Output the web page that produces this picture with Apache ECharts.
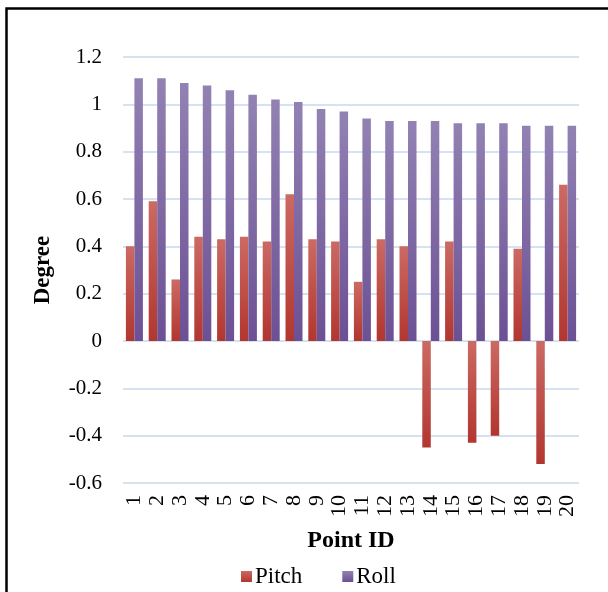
<!DOCTYPE html>
<html>
<head>
<meta charset="utf-8">
<script src="https://cdn.jsdelivr.net/npm/echarts@6/dist/echarts.min.js"></script>
<style>
  html, body { margin: 0; padding: 0; background: #fff; }
  #chart { width: 608px; height: 592px; }
</style>
</head>
<body>
<div id="chart"></div>
<script>
// Point IDs along the horizontal axis
const pointIds = ['1','2','3','4','5','6','7','8','9','10','11','12','13','14','15','16','17','18','19','20'];
// Pitch angle per point (degrees)
const pitch = [0.40, 0.59, 0.26, 0.44, 0.43, 0.44, 0.42, 0.62, 0.43, 0.42,
               0.25, 0.43, 0.40, -0.45, 0.42, -0.43, -0.40, 0.39, -0.52, 0.66];
// Roll angle per point (degrees)
const roll = [1.11, 1.11, 1.09, 1.08, 1.06, 1.04, 1.02, 1.01, 0.98, 0.97,
              0.94, 0.93, 0.93, 0.93, 0.92, 0.92, 0.92, 0.91, 0.91, 0.91];

const serif = '"Liberation Serif", "Times New Roman", serif';

function grad(top, bottom) {
  return new echarts.graphic.LinearGradient(0, 0, 0, 1, [
    { offset: 0, color: top },
    { offset: 1, color: bottom }
  ]);
}

const chart = echarts.init(document.getElementById('chart'), null, { renderer: 'canvas' });
chart.setOption({
  animation: false,
  backgroundColor: '#fff',
  graphic: [{
    type: 'rect',
    shape: { x: 6.5, y: 8.5, width: 640, height: 640 },
    style: { fill: 'none', stroke: '#000', lineWidth: 2.5 },
    z: 100
  }],
  grid: { left: 123, right: 29, top: 57, bottom: 109, containLabel: false },
  legend: {
    data: ['Pitch', 'Roll'],
    top: 560,
    left: 236,
    itemWidth: 11,
    itemHeight: 11,
    itemGap: 40,
    icon: 'rect',
    textStyle: { fontFamily: serif, fontSize: 23, color: '#000', padding: [0, 0, 0, -2] }
  },
  xAxis: {
    type: 'category',
    data: pointIds,
    name: 'Point ID',
    nameLocation: 'middle',
    nameGap: 46,
    nameTextStyle: { fontFamily: serif, fontSize: 24, fontWeight: 'bold', color: '#000' },
    axisLine: { show: false, onZero: false },
    axisTick: { show: false },
    axisLabel: {
      rotate: 90,
      interval: 0,
      margin: 12,
      fontFamily: serif,
      fontSize: 22,
      color: '#000'
    }
  },
  yAxis: {
    type: 'value',
    min: -0.6,
    max: 1.2,
    interval: 0.2,
    name: 'Degree',
    nameLocation: 'middle',
    nameGap: 68,
    nameTextStyle: { fontFamily: serif, fontSize: 23, fontWeight: 'bold', color: '#000' },
    axisLine: { show: false },
    axisTick: { show: false },
    axisLabel: {
      margin: 21,
      fontFamily: serif,
      fontSize: 21,
      color: '#000',
      formatter: v => String(Math.round(v * 10) / 10)
    },
    splitLine: { lineStyle: { color: '#d6e2f1', width: 2 } }
  },
  series: [
    {
      name: 'Pitch',
      type: 'bar',
      data: pitch,
      barWidth: 8.5,
      barGap: '0%',
      itemStyle: { color: grad('#cb6a63', '#b2362f') }
    },
    {
      name: 'Roll',
      type: 'bar',
      data: roll,
      barWidth: 8.5,
      itemStyle: { color: grad('#9282b3', '#6c5094') }
    }
  ]
});
</script>
</body>
</html>
